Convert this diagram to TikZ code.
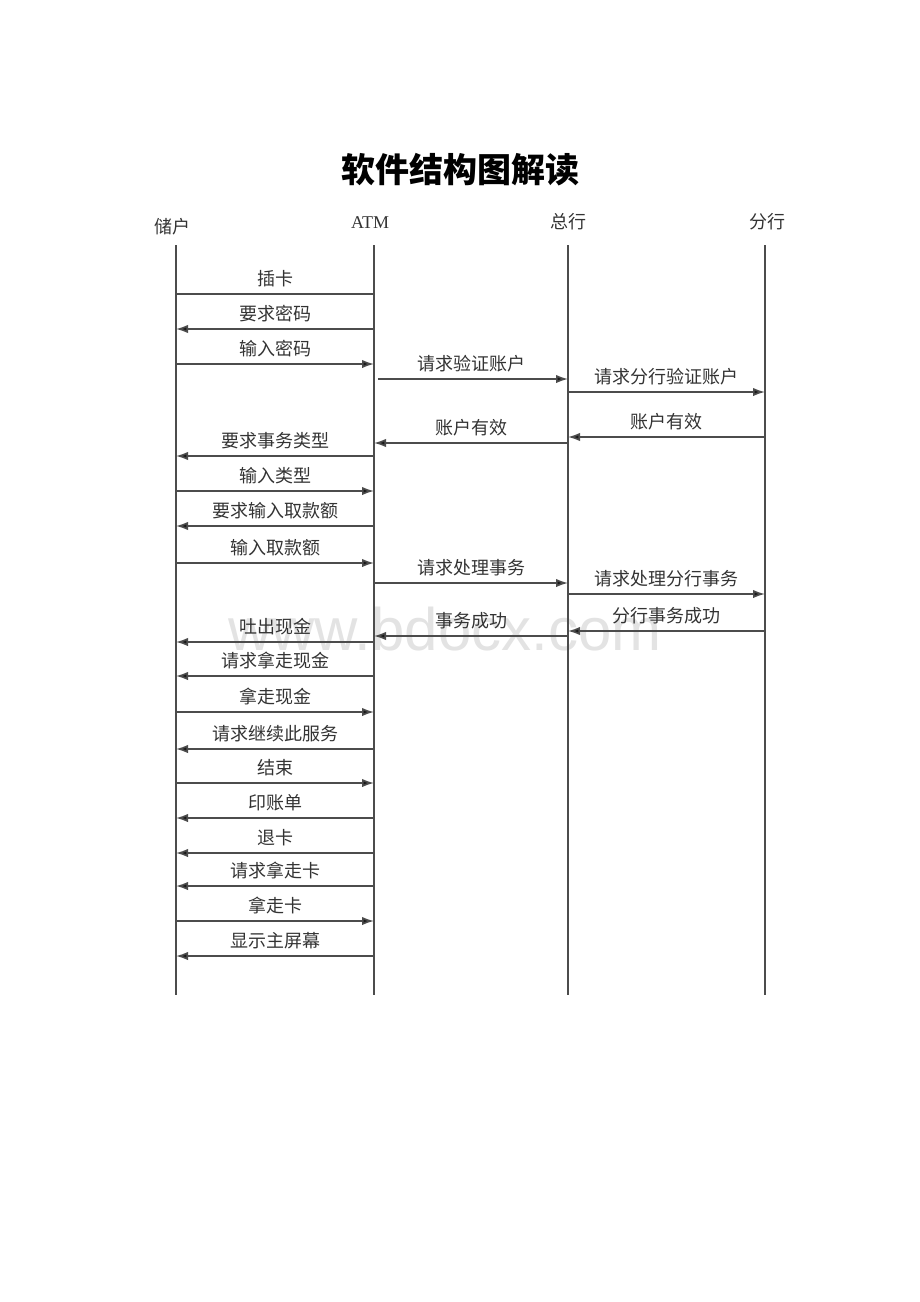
\documentclass[tikz,border=0pt]{standalone}
\usepackage{fontspec}
\setmainfont{Noto Sans CJK SC}
\newfontfamily\atmfont{Liberation Serif}
\newfontfamily\markfont{Liberation Sans}
\usetikzlibrary{shapes,arrows,arrows.meta}

\begin{document}
\begin{tikzpicture}[x=0.5pt,y=-0.5pt,
  life/.style={draw=black!70,line width=0.7pt},
  msg/.style={draw=black!70,line width=0.8pt,-{Latex[length=6pt,width=4.2pt,fill=black!90]}},
  lbl/.style={midway,above=3pt,inner sep=0pt,font=\fontsize{9}{9}\selectfont,text=black!80},
  head/.style={inner sep=0pt,font=\fontsize{9}{9}\selectfont,text=black!80}]
\useasboundingbox (0,0) rectangle (920,1302);
% watermark
\node[anchor=base,inner sep=0pt,text=black!11,font=\markfont\fontsize{30}{30}\selectfont] (mark) at (445,650) {www.bdocx.com};
\node[inner sep=0pt,font=\bfseries\fontsize{17}{17}\selectfont] (title) at (460,170) {软件结构图解读};
% lifelines
\node[head] (cusH) at (172,227) {储户};
\node[head,font=\atmfont\fontsize{9}{9}\selectfont] (atmH) at (370,223) {ATM};
\node[head] (hqH) at (568,222) {总行};
\node[head] (brH) at (767,222) {分行};
\coordinate (cus) at (176,245);
\coordinate (atm) at (374,245);
\coordinate (hq) at (568,245);
\coordinate (br) at (765,245);
\coordinate (cusE) at (176,995);
\coordinate (atmE) at (374,995);
\coordinate (hqE) at (568,995);
\coordinate (brE) at (765,995);
\draw[life] (cus) -- (cusE);
\draw[life] (atm) -- (atmE);
\draw[life] (hq) -- (hqE);
\draw[life] (br) -- (brE);
% message levels
\coordinate (m1) at (0,294);
\coordinate (m2) at (0,329);
\coordinate (m3) at (0,364);
\coordinate (m4) at (0,379);
\coordinate (m5) at (0,392);
\coordinate (m6) at (0,437);
\coordinate (m7) at (0,443);
\coordinate (m8) at (0,456);
\coordinate (m9) at (0,491);
\coordinate (m10) at (0,526);
\coordinate (m11) at (0,563);
\coordinate (m12) at (0,583);
\coordinate (m13) at (0,594);
\coordinate (m14) at (0,631);
\coordinate (m15) at (0,636);
\coordinate (m16) at (0,642);
\coordinate (m17) at (0,676);
\coordinate (m18) at (0,712);
\coordinate (m19) at (0,749);
\coordinate (m20) at (0,783);
\coordinate (m21) at (0,818);
\coordinate (m22) at (0,853);
\coordinate (m23) at (0,886);
\coordinate (m24) at (0,921);
\coordinate (m25) at (0,956);
% messages
\draw[msg,-] (cus |- m1) -- (atm |- m1) node[lbl] {插卡};
\draw[msg] (atm |- m2) -- (cus |- m2) node[lbl] {要求密码};
\draw[msg] (cus |- m3) -- (atm |- m3) node[lbl] {输入密码};
\draw[msg,shorten <=2pt] (atm |- m4) -- (hq |- m4) node[lbl] {请求验证账户};
\draw[msg] (hq |- m5) -- (br |- m5) node[lbl] {请求分行验证账户};
\draw[msg] (br |- m6) -- (hq |- m6) node[lbl] {账户有效};
\draw[msg] (hq |- m7) -- (atm |- m7) node[lbl] {账户有效};
\draw[msg] (atm |- m8) -- (cus |- m8) node[lbl] {要求事务类型};
\draw[msg] (cus |- m9) -- (atm |- m9) node[lbl] {输入类型};
\draw[msg] (atm |- m10) -- (cus |- m10) node[lbl] {要求输入取款额};
\draw[msg] (cus |- m11) -- (atm |- m11) node[lbl] {输入取款额};
\draw[msg] (atm |- m12) -- (hq |- m12) node[lbl] {请求处理事务};
\draw[msg] (hq |- m13) -- (br |- m13) node[lbl] {请求处理分行事务};
\draw[msg] (br |- m14) -- (hq |- m14) node[lbl] {分行事务成功};
\draw[msg] (hq |- m15) -- (atm |- m15) node[lbl] {事务成功};
\draw[msg] (atm |- m16) -- (cus |- m16) node[lbl] {吐出现金};
\draw[msg] (atm |- m17) -- (cus |- m17) node[lbl] {请求拿走现金};
\draw[msg] (cus |- m18) -- (atm |- m18) node[lbl] {拿走现金};
\draw[msg] (atm |- m19) -- (cus |- m19) node[lbl] {请求继续此服务};
\draw[msg] (cus |- m20) -- (atm |- m20) node[lbl] {结束};
\draw[msg] (atm |- m21) -- (cus |- m21) node[lbl] {印账单};
\draw[msg] (atm |- m22) -- (cus |- m22) node[lbl] {退卡};
\draw[msg] (atm |- m23) -- (cus |- m23) node[lbl] {请求拿走卡};
\draw[msg] (cus |- m24) -- (atm |- m24) node[lbl] {拿走卡};
\draw[msg] (atm |- m25) -- (cus |- m25) node[lbl] {显示主屏幕};
\end{tikzpicture}
\end{document}
